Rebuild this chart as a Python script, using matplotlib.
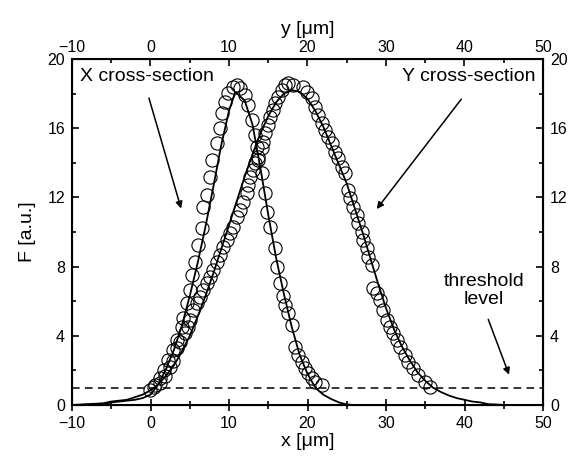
import numpy as np
import matplotlib
matplotlib.use("Agg")
import matplotlib.pyplot as plt
from matplotlib.ticker import MultipleLocator

plt.rcParams['font.family'] = ['Liberation Sans', 'DejaVu Sans']

# X cross-section: measured points (circles)
x_pts = [0.57, 1.2, 1.7, 2.27, 2.91, 3.33, 3.97, 4.18, 4.61, 5.03, 5.25, 5.67, 6.09, 6.52,
         6.73, 7.16, 7.58, 7.79, 8.43, 8.85, 9.07, 9.49, 9.91, 10.55, 10.98, 11.40, 12.04,
         12.46, 12.89, 13.31, 13.53, 13.73, 14.17, 14.59, 14.80, 15.22, 15.86, 16.08, 16.50,
         16.92, 17.13, 17.56, 17.99, 18.41, 18.83, 19.26, 19.68, 20.10, 20.53, 20.96, 21.81]
fx_pts = [1.16, 1.55, 2.0, 2.60, 3.18, 3.76, 4.53, 5.01, 5.88, 6.65, 7.51, 8.29, 9.25, 10.21,
          11.46, 12.14, 13.20, 14.16, 15.13, 15.99, 16.86, 17.53, 18.02, 18.40, 18.50, 18.31, 17.92,
          17.34, 16.47, 15.61, 14.94, 14.16, 13.39, 12.24, 11.18, 10.31, 9.06, 8.00, 7.04,
          6.30, 5.80, 5.30, 4.62, 3.37, 2.89, 2.50, 2.12, 1.83, 1.54, 1.35, 1.16]

# Y cross-section: measured points (circles)
y_pts = [-0.06, 0.5, 1.21, 1.85, 2.48, 2.91, 3.33, 3.76, 4.39, 4.82, 5.03, 5.45, 5.88, 6.31,
         6.73, 7.16, 7.58, 8.00, 8.43, 8.85, 9.27, 9.71, 10.13, 10.55, 10.98, 11.40, 11.82,
         12.25, 12.46, 12.68, 13.10, 13.31, 13.73, 14.17, 14.37, 14.59, 15.01, 15.22, 15.64,
         15.86, 16.28, 16.71, 17.13, 17.56, 18.19, 19.46, 19.90, 20.53, 20.96, 21.38, 21.81,
         22.23, 22.65, 23.08, 23.50, 23.92, 24.36, 24.78, 25.20, 25.41, 25.83, 26.27, 26.47,
         26.90, 27.11, 27.54, 27.75, 28.18, 28.38, 28.81, 29.24, 29.66, 30.09, 30.51, 30.93,
         31.36, 31.78, 32.42, 32.84, 33.48, 34.11, 34.97, 35.61]
fy_pts = [0.87, 1.05, 1.25, 1.70, 2.18, 2.57, 3.28, 3.66, 4.14, 4.53, 4.91, 5.49, 5.88, 6.26,
          6.65, 7.04, 7.42, 7.80, 8.29, 8.67, 9.15, 9.54, 9.92, 10.31, 10.89, 11.27, 11.75,
          12.24, 12.72, 13.20, 13.58, 13.97, 14.35, 14.84, 15.22, 15.70, 16.18, 16.67, 17.05,
          17.44, 17.82, 18.21, 18.50, 18.60, 18.50, 18.40, 18.11, 17.73, 17.24, 16.76, 16.28,
          15.90, 15.51, 15.13, 14.64, 14.26, 13.78, 13.39, 12.43, 11.95, 11.46, 10.98, 10.50,
          10.02, 9.54, 9.06, 8.57, 8.09, 6.74, 6.45, 6.07, 5.49, 4.91, 4.53, 4.14,
          3.76, 3.37, 2.89, 2.50, 2.12, 1.73, 1.35, 1.06]

# fitted / full profiles (solid lines)
x_line = [-10, -8, -6, -5, -4, -3, -2, -1, 0, 1, 2, 3, 4, 5, 6, 7, 8, 9, 10, 10.8, 12, 13,
          14, 15, 16, 17, 18, 19, 20, 21, 22, 23, 24, 25, 26, 50]
fx_line = [0, 0.02, 0.05, 0.15, 0.2, 0.25, 0.3, 0.4, 0.6, 1.2, 2.1, 3.2, 4.6, 6.3, 8.2, 10.3,
           12.6, 15.0, 17.0, 18.1, 17.6, 16.2, 13.7, 11.0, 8.5, 6.4, 4.5, 2.9, 1.8, 1.0, 0.6,
           0.35, 0.15, 0.03, 0, 0]
y_line = [-10, -8, -6, -5, -4, -3, -2, -1, 0, 1, 2, 3, 4, 5, 6, 7, 8, 9, 10, 11, 12, 13, 14,
          15, 16, 17, 18, 19, 20, 21, 22, 23, 24, 25, 26, 27, 28, 29, 30, 31, 32, 33, 34, 35,
          36, 37, 38, 39, 40, 41, 42, 43, 44, 45, 50]
fy_line = [0, 0.05, 0.1, 0.2, 0.25, 0.3, 0.45, 0.6, 0.85, 1.2, 1.7, 2.3, 3.1, 4.0, 5.1, 6.3,
           7.6, 9.0, 10.4, 11.8, 13.2, 14.5, 15.7, 16.7, 17.5, 18.0, 18.2, 18.1, 17.7, 17.0,
           16.1, 15.0, 13.9, 12.8, 11.4, 10.0, 8.5, 7.0, 5.6, 4.4, 3.4, 2.6, 1.9, 1.4, 1.0,
           0.75, 0.55, 0.4, 0.3, 0.2, 0.15, 0.05, 0.03, 0, 0]

threshold = 1.0

fig = plt.figure(figsize=(5.69, 4.58), dpi=100)
ax = fig.add_axes([72/569, 1 - 405/458, 471/569, 346/458])

ax.plot(x_line, fx_line, color='black', lw=1.3, zorder=3)
ax.plot(x_pts, fx_pts, 'o', ms=9.5, mfc='none', mec='black', mew=0.8, zorder=4)
ax.axhline(threshold, color='black', lw=1.1, ls=(0, (5, 3.5)))

ax.set_xlim(-10, 50)
ax.set_ylim(0, 20)
ax.xaxis.set_major_locator(MultipleLocator(10))
ax.xaxis.set_minor_locator(MultipleLocator(5))
ax.yaxis.set_major_locator(MultipleLocator(4))
ax.yaxis.set_minor_locator(MultipleLocator(2))
ax.tick_params(axis='x', which='both', direction='inout', labelsize=11.5, pad=4)
ax.tick_params(axis='x', which='major', length=8, width=1.2)
ax.tick_params(axis='x', which='minor', length=6, width=1.2)
ax.tick_params(axis='y', which='both', direction='in', labelsize=11.5, width=1.2, pad=5,
               right=True, labelright=True)
ax.tick_params(axis='y', which='major', length=5)
ax.tick_params(axis='y', which='minor', length=3)
ax.set_xlabel('x [μm]', fontsize=14, labelpad=1)
ax.set_ylabel('F [a.u.]', fontsize=14, labelpad=8)
for s in ax.spines.values():
    s.set_linewidth(1.5)

# top axis for the Y cross-section
ax2 = ax.twiny()
ax2.plot(y_line, fy_line, color='black', lw=1.3, zorder=3)
ax2.plot(y_pts, fy_pts, 'o', ms=9.5, mfc='none', mec='black', mew=0.8, zorder=4)
ax2.set_xlim(-10, 50)
ax2.xaxis.set_major_locator(MultipleLocator(10))
ax2.xaxis.set_minor_locator(MultipleLocator(5))
ax2.tick_params(axis='x', which='both', direction='in', labelsize=11.5, width=1.2, pad=3)
ax2.tick_params(axis='x', which='major', length=5)
ax2.tick_params(axis='x', which='minor', length=3)
ax2.set_xlabel('y [μm]', fontsize=14, labelpad=4)

arrow = dict(arrowstyle='-|>', color='black', lw=1.1, mutation_scale=10)
ax.text(-9, 19.0, 'X cross-section', fontsize=14, va='center', ha='left')
ax.annotate('', xy=(4.0, 11.2), xytext=(-0.3, 17.9), arrowprops=arrow)
ax.text(49, 19.0, 'Y cross-section', fontsize=14, va='center', ha='right')
ax.annotate('', xy=(28.6, 11.2), xytext=(39.8, 17.8), arrowprops=arrow)
ax.text(42.5, 6.6, 'threshold\nlevel', fontsize=14, va='center', ha='center', linespacing=1.05)
ax.annotate('', xy=(45.8, 1.6), xytext=(42.9, 5.1), arrowprops=arrow)

fig.savefig('out.png', dpi=100)
